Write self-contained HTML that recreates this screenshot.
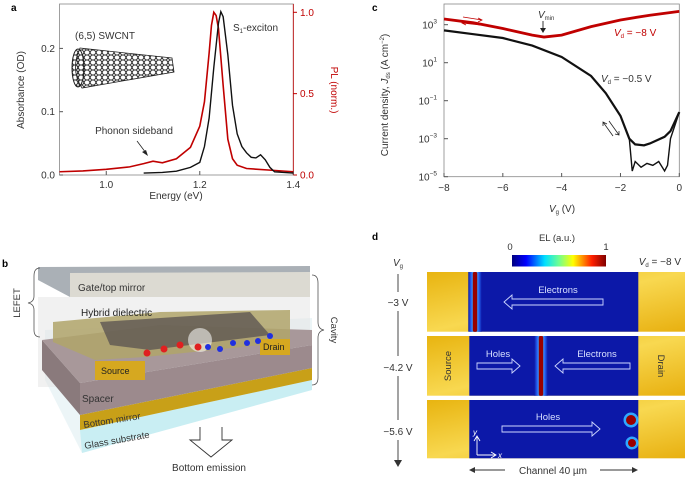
<!DOCTYPE html>
<html><head><meta charset="utf-8"><style>
body{margin:0;background:#fff;}
svg{display:block;font-family:"Liberation Sans",sans-serif;}
</style></head><body>
<svg id="fig" width="685" height="481" viewBox="0 0 685 481" xmlns="http://www.w3.org/2000/svg">
<defs>
<linearGradient id="gold" x1="0" y1="0" x2="1" y2="1">
<stop offset="0" stop-color="#e8b410"/><stop offset="0.5" stop-color="#f8d850"/><stop offset="1" stop-color="#e8b010"/></linearGradient>
<linearGradient id="cbar" x1="0" x2="1">
<stop offset="0" stop-color="#00007f"/><stop offset="0.15" stop-color="#0000ff"/><stop offset="0.35" stop-color="#00e0ff"/><stop offset="0.5" stop-color="#70ff90"/><stop offset="0.65" stop-color="#ffff00"/><stop offset="0.85" stop-color="#ff2000"/><stop offset="1" stop-color="#800000"/></linearGradient>
<pattern id="hex" width="6" height="5" patternUnits="userSpaceOnUse"><path d="M0 2.5 L1.5 0 H4.5 L6 2.5 L4.5 5 H1.5 Z" fill="none" stroke="#222" stroke-width="0.9"/></pattern>
<linearGradient id="emit" x1="0" x2="1"><stop offset="0" stop-color="#0c18a8"/><stop offset="0.25" stop-color="#2a70ff"/><stop offset="0.4" stop-color="#40d0ff"/><stop offset="0.5" stop-color="#a00000"/><stop offset="0.6" stop-color="#40d0ff"/><stop offset="0.75" stop-color="#2a70ff"/><stop offset="1" stop-color="#0c18a8"/></linearGradient>
</defs>

<!-- Panel a -->
<g>
<text x="11" y="11" font-size="10" font-weight="bold">a</text>
<rect x="59.5" y="4" width="233.8" height="171" fill="none" stroke="#888" stroke-width="0.8"/>
<line x1="293.3" y1="4" x2="293.3" y2="175" stroke="#c00000" stroke-width="0.8"/>
<g id="aAxes"></g>
<text transform="translate(24,90) rotate(-90)" font-size="10" text-anchor="middle" fill="#333">Absorbance (OD)</text>
<text transform="translate(331,90) rotate(90)" font-size="10" text-anchor="middle" fill="#c00000">PL (norm.)</text>
<text x="176" y="199" font-size="10" text-anchor="middle" fill="#333">Energy (eV)</text>
<text x="75" y="39" font-size="10" fill="#333">(6,5) SWCNT</text>
<g>
<path d="M80 48 L172 58 L174 72 L82 88 Q70 70 80 48 Z" fill="url(#hex)" stroke="#222" stroke-width="0.8"/>
<ellipse cx="78" cy="68" rx="6" ry="19" fill="url(#hex)" stroke="#222" stroke-width="1"/>
</g>
<text x="233" y="31" font-size="10" fill="#333">S<tspan font-size="6" dy="2">1</tspan><tspan dy="-2">-exciton</tspan></text>
<text x="134" y="134" font-size="10" text-anchor="middle" fill="#333">Phonon sideband</text>
<line x1="137" y1="141" x2="146" y2="153" stroke="#222" stroke-width="0.8"/>
<path d="M148 156 L142 152 L146 150 Z" fill="#222"/>
<g id="aSeries"></g>
</g>

<!-- Panel c -->
<g>
<text x="372" y="11" font-size="10" font-weight="bold">c</text>
<rect x="444" y="4" width="235.3" height="172.7" fill="none" stroke="#888" stroke-width="0.8"/>
<g id="cAxes"></g>
<text transform="translate(388,95) rotate(-90)" font-size="10" text-anchor="middle" fill="#333">Current density, <tspan font-style="italic">J</tspan><tspan font-size="6" dy="2">ds</tspan><tspan dy="-2"> (A cm</tspan><tspan font-size="6" dy="-4">−2</tspan><tspan dy="4">)</tspan></text>
<text x="562" y="212" font-size="10" text-anchor="middle" fill="#333"><tspan font-style="italic">V</tspan><tspan font-size="6" dy="2">g</tspan><tspan dy="-2"> (V)</tspan></text>
<text x="538" y="18" font-size="10" fill="#333"><tspan font-style="italic">V</tspan><tspan font-size="6" dy="2">min</tspan></text>
<line x1="543" y1="21" x2="543" y2="31" stroke="#222" stroke-width="0.9"/><path d="M540 28 L546 28 L543 33 Z" fill="#222"/>
<text x="614" y="36" font-size="10" fill="#c00000"><tspan font-style="italic">V</tspan><tspan font-size="6" dy="2">d</tspan><tspan dy="-2"> = −8 V</tspan></text>
<text x="601" y="82" font-size="10" fill="#333"><tspan font-style="italic">V</tspan><tspan font-size="6" dy="2">d</tspan><tspan dy="-2"> = −0.5 V</tspan></text>
<g id="cSeries"></g>
<g stroke="#c00000" stroke-width="0.8" fill="none">
<path d="M463 17 L482 20 M478 18 L482 20 L478 22"/><path d="M480 25 L462 23 M466 21 L462 23 L466 25"/></g>
<g stroke="#222" stroke-width="0.8" fill="none">
<path d="M609 121 L619 135 M615 134 L619 135 L619 131"/><path d="M613 136 L603 122 M603 126 L603 122 L607 124"/></g>
</g>

<!-- Panel b -->
<g>
<text x="2" y="267" font-size="10" font-weight="bold">b</text>
<polygon points="45,330 312,318 312,388 82,453 45,380" fill="#dfeff2" opacity="0.6"/>
<rect x="38" y="297" width="272" height="90" fill="#e4e4e4" opacity="0.5"/>
<polygon points="80,430 312,380 312,390 82,453" fill="#c9eef3"/>
<polygon points="80,415 312,368 312,380 80,430" fill="#c8a018"/>
<polygon points="42,340 80,383 80,415 42,370" fill="#8a7a7c"/>
<polygon points="80,383 312,345 312,368 80,415" fill="#9c8a8d"/>
<polygon points="42,340 160,325 312,330 312,345 80,383" fill="#a8989a"/>
<polygon points="53,322 160,312 290,310 290,342 145,357 95,360 53,342" fill="#b0a46a" opacity="0.85"/>
<polygon points="100,322 250,312 270,335 150,350 110,345" fill="#5e5652" opacity="0.8"/>
<rect x="95" y="361" width="50" height="19" fill="#d6a820"/>
<text x="101" y="374" font-size="9" fill="#222">Source</text>
<rect x="260" y="339" width="30" height="16" fill="#d6a820"/>
<text x="263" y="350" font-size="9" fill="#222">Drain</text>
<circle cx="200" cy="340" r="12" fill="#fff" opacity="0.55"/>
<g fill="#e02020"><circle cx="147" cy="353" r="3.5"/><circle cx="164" cy="349" r="3.5"/><circle cx="180" cy="345" r="3.5"/><circle cx="198" cy="347" r="3.5"/></g>
<g fill="#2030e0"><circle cx="208" cy="347" r="3"/><circle cx="220" cy="349" r="3"/><circle cx="233" cy="343" r="3"/><circle cx="247" cy="343" r="3"/><circle cx="258" cy="341" r="3"/><circle cx="270" cy="336" r="3"/></g>
<text x="81" y="316" font-size="10" fill="#222">Hybrid dielectric</text>
<polygon points="38,267 310,266 310,297 70,297 38,280" fill="#aab0b6"/>
<polygon points="70,273 310,272 310,297 70,297" fill="#dcdad2"/>
<text x="78" y="291" font-size="10" fill="#333">Gate/top mirror</text>
<text x="82" y="402" font-size="10" fill="#333">Spacer</text>
<text transform="translate(84,428) rotate(-9)" font-size="9.5" fill="#333">Bottom mirror</text>
<text transform="translate(85,449) rotate(-10)" font-size="9.5" fill="#333">Glass substrate</text>
<path d="M40 268 Q34 268 34 276 L34 296 Q34 302 28 303 Q34 304 34 310 L34 330 Q34 337 40 337" fill="none" stroke="#555" stroke-width="0.8"/>
<text transform="translate(20,303) rotate(-90)" font-size="9.5" text-anchor="middle" fill="#333">LEFET</text>
<path d="M312 275 Q318 275 318 283 L318 322 Q318 329 324 330 Q318 331 318 338 L318 378 Q318 385 312 385" fill="none" stroke="#555" stroke-width="0.8"/>
<text transform="translate(331,330) rotate(90)" font-size="9.5" text-anchor="middle" fill="#333">Cavity</text>
<path d="M200 427 L200 440 L190 440 L211 457 L232 440 L222 440 L222 427" fill="#fff" stroke="#333" stroke-width="0.9"/>
<text x="209" y="471" font-size="10" text-anchor="middle" fill="#333">Bottom emission</text>
</g>

<!-- Panel d -->
<g>
<text x="372" y="240" font-size="10" font-weight="bold">d</text>
<text x="557" y="241" font-size="9.5" text-anchor="middle" fill="#333">EL (a.u.)</text>
<text x="510" y="250" font-size="9.5" text-anchor="middle" fill="#333">0</text>
<text x="606" y="250" font-size="9.5" text-anchor="middle" fill="#333">1</text>
<rect x="512" y="255" width="94" height="11.5" fill="url(#cbar)"/>
<text x="681" y="265" font-size="10" text-anchor="end" fill="#333"><tspan font-style="italic">V</tspan><tspan font-size="6" dy="2">d</tspan><tspan dy="-2"> = −8 V</tspan></text>
<text x="393" y="266" font-size="10" font-style="italic" fill="#333">V<tspan font-size="6" dy="2" font-style="normal">g</tspan></text>
<g stroke="#666" stroke-width="1.2">
<line x1="398" y1="274" x2="398" y2="292"/><line x1="398" y1="311" x2="398" y2="356"/><line x1="398" y1="376" x2="398" y2="420"/><line x1="398" y1="440" x2="398" y2="462"/></g>
<path d="M394 460 L402 460 L398 467 Z" fill="#333"/>
<text x="398" y="306" font-size="10" text-anchor="middle" fill="#333">−3 V</text>
<text x="398" y="371" font-size="10" text-anchor="middle" fill="#333">−4.2 V</text>
<text x="398" y="435" font-size="10" text-anchor="middle" fill="#333">−5.6 V</text>
<g id="strips"></g>
<g stroke="#333" stroke-width="0.9"><line x1="470" y1="470" x2="505" y2="470"/><line x1="600" y1="470" x2="636" y2="470"/></g>
<path d="M469 470 L475 467 L475 473 Z M638 470 L632 467 L632 473 Z" fill="#333"/>
<text x="553" y="474" font-size="10" text-anchor="middle" fill="#333">Channel 40 µm</text>
</g>
</svg>
<script>
// Panel a data
const energyAbs = [1.08,1.12,1.15,1.18,1.20,1.21,1.22,1.23,1.24,1.245,1.25,1.26,1.27,1.28,1.29,1.30,1.31,1.32,1.33,1.34,1.35,1.36,1.40];
const absValues = [0.003,0.004,0.006,0.012,0.02,0.045,0.09,0.17,0.24,0.258,0.25,0.19,0.11,0.065,0.045,0.035,0.028,0.027,0.032,0.024,0.012,0.005,0.003];
const energyPL = [0.90,0.95,1.00,1.05,1.08,1.10,1.12,1.15,1.18,1.20,1.21,1.22,1.225,1.23,1.235,1.24,1.25,1.26,1.27,1.28,1.30,1.35,1.40];
const plValues = [0.02,0.025,0.035,0.05,0.07,0.085,0.075,0.1,0.17,0.3,0.45,0.75,0.92,1.0,0.98,0.9,0.55,0.22,0.1,0.06,0.04,0.03,0.02];
const aXTicks = [1.0,1.2,1.4];
const aXTickLabels = ["1.0","1.2","1.4"];
const aYTicks = [0,0.1,0.2];
const aYTickLabels = ["0.0","0.1","0.2"];
const plTicks = [0,0.5,1.0];
const plTickLabels = ["0.0","0.5","1.0"];
// Panel c data
const vgRed = [-8,-7,-6,-5,-4.6,-4,-3,-2,-1,0];
const logRed = [3.3,3.1,2.8,2.45,2.35,2.45,2.9,3.25,3.5,3.7];
const vgBlackUp = [-8,-7,-6,-5,-4,-3,-2.5,-2,-1.7,-1.5,-1.2,-1,-0.5,-0.3,0];
const logBlackUp = [2.7,2.5,2.3,1.9,1.3,0.3,-0.6,-1.8,-3.0,-3.3,-3.35,-3.25,-2.9,-2.6,-1.6];
const vgBlackLow = [-1.7,-1.6,-1.5,-1.3,-1.1,-0.9,-0.7,-0.5,-0.4,-0.3,0];
const logBlackLow = [-3.0,-4.7,-4.2,-4.5,-4.3,-4.4,-4.2,-4.7,-4.4,-3.0,-1.6];
const cXTicks = [-8,-6,-4,-2,0];
const cXTickLabels = ["−8","−6","−4","−2","0"];
const cYTicks = [3,1,-1,-3,-5];
const cYTickLabels = ["3","1","−1","−3","−5"];

const NS="http://www.w3.org/2000/svg";
function mk(tag,attrs,parent){const e=document.createElementNS(NS,tag);for(const k in attrs)e.setAttribute(k,attrs[k]);parent.appendChild(e);return e;}
const ax=e=>59.5+(e-0.9)/0.5*233.8;
const ayAbs=v=>175-v/0.1*63.3;
const ayPL=v=>175-v*162.7;
const cx=v=>444+(v+8)/8*235.3;
const cy=l=>176.7-(l+5)/2*38;

const aAxes=document.getElementById('aAxes');
aXTicks.forEach((t,i)=>{
 const l=mk('line',{x1:ax(t),y1:175,x2:ax(t),y2:171,stroke:'#555'},aAxes);
 
 
 const tx=mk('text',{x:ax(t),y:188,'font-size':10,'text-anchor':'middle',fill:'#333'},aAxes);tx.textContent=aXTickLabels[i];
 
 
});
aYTicks.forEach((t,i)=>{
 mk('line',{x1:59.5,y1:ayAbs(t),x2:63,y2:ayAbs(t),stroke:'#555'},aAxes);
 const tx=mk('text',{x:55,y:ayAbs(t)+3.5,'font-size':10,'text-anchor':'end',fill:'#333'},aAxes);tx.textContent=aYTickLabels[i];
 
 
});
plTicks.forEach((t,i)=>{
 mk('line',{x1:293.3,y1:ayPL(t),x2:297,y2:ayPL(t),stroke:'#c00000'},aAxes);
 const tx=mk('text',{x:300,y:ayPL(t)+3.5,'font-size':10,fill:'#c00000'},aAxes);tx.textContent=plTickLabels[i];
 
 
});
const aS=document.getElementById('aSeries');
const pl=mk('polyline',{points:energyPL.map((e,i)=>ax(e)+','+ayPL(plValues[i])).join(' '),fill:'none',stroke:'#c00000','stroke-width':1.6},aS);


const ab=mk('polyline',{points:energyAbs.map((e,i)=>ax(e)+','+ayAbs(absValues[i])).join(' '),fill:'none',stroke:'#111','stroke-width':1.4},aS);



const cAxes=document.getElementById('cAxes');
cXTicks.forEach((t,i)=>{
 mk('line',{x1:cx(t),y1:176.7,x2:cx(t),y2:173,stroke:'#555'},cAxes);
 const tx=mk('text',{x:cx(t),y:191,'font-size':10,'text-anchor':'middle',fill:'#333'},cAxes);tx.textContent=cXTickLabels[i];
 
 
});
cYTicks.forEach((t,i)=>{
 mk('line',{x1:444,y1:cy(t),x2:448,y2:cy(t),stroke:'#555'},cAxes);
 const tx=mk('text',{x:437,y:cy(t)+4,'font-size':10,'text-anchor':'end',fill:'#333'},cAxes);
 tx.innerHTML='10<tspan font-size="6.5" dy="-5">'+cYTickLabels[i]+'</tspan>';
 
 
});
const cS=document.getElementById('cSeries');
const r=mk('polyline',{points:vgRed.map((v,i)=>cx(v)+','+cy(logRed[i])).join(' '),fill:'none',stroke:'#c00000','stroke-width':2.8},cS);


const b1=mk('polyline',{points:vgBlackUp.map((v,i)=>cx(v)+','+cy(logBlackUp[i])).join(' '),fill:'none',stroke:'#111','stroke-width':2.2},cS);


const b2=mk('polyline',{points:vgBlackLow.map((v,i)=>cx(v)+','+cy(logBlackLow[i])).join(' '),fill:'none',stroke:'#111','stroke-width':1.4},cS);



// Panel d strips
const strips=document.getElementById('strips');
const rows=[[272,331.7],[336,395.7],[400,458.3]];
rows.forEach((rw,i)=>{
 const h=rw[1]-rw[0];
 const g=mk('g',{},strips);
 
 
 mk('rect',{x:427,y:rw[0],width:258,height:h,fill:'url(#gold)'},g);
 mk('rect',{x:469.3,y:rw[0],width:169,height:h,fill:'#0c18a8'},g);
});
function zone(x,y,w,h,parent){mk('rect',{x:x-w*1.5,y:y,width:w*3,height:h,fill:'url(#emit)'},parent);mk('rect',{x:x-w/2,y:y,width:w,height:h,rx:1.5,fill:'#9a0000'},parent);}
zone(475,272,4.5,59.7,strips);
zone(541,336,4.5,59.7,strips);
mk('circle',{cx:631,cy:420,r:7.5,fill:'#30a8ff'},strips);mk('circle',{cx:631,cy:420,r:5,fill:'#9a0000'},strips);
mk('circle',{cx:632,cy:443,r:6.5,fill:'#30a8ff'},strips);mk('circle',{cx:632,cy:443,r:4,fill:'#9a0000'},strips);
function arrowR(x1,x2,y,parent){mk('path',{d:`M${x1} ${y-3} L${x2-8} ${y-3} L${x2-8} ${y-7} L${x2} ${y} L${x2-8} ${y+7} L${x2-8} ${y+3} L${x1} ${y+3} Z`,fill:'none',stroke:'#cfd8ff','stroke-width':0.9},parent);}
function arrowL(x1,x2,y,parent){mk('path',{d:`M${x2} ${y-3} L${x1+8} ${y-3} L${x1+8} ${y-7} L${x1} ${y} L${x1+8} ${y+7} L${x1+8} ${y+3} L${x2} ${y+3} Z`,fill:'none',stroke:'#cfd8ff','stroke-width':0.9},parent);}
arrowL(504,603,302,strips);arrowL(555,630,366,strips);arrowR(477,520,366,strips);arrowR(502,600,429,strips);
function lbl(t,x,y,name,rot){const e=mk('text',{x:x,y:y,'font-size':9.5,'text-anchor':'middle',fill:rot?'#333':'#d8e0ff'},strips);if(rot)e.setAttribute('transform',`rotate(${rot} ${x} ${y})`);e.textContent=t;}
lbl('Electrons',558,293,'electrons-label-1');
lbl('Holes',498,357,'holes-label-2');
lbl('Electrons',597,357,'electrons-label-2');
lbl('Holes',548,420,'holes-label-3');
lbl('Source',451,366,'source-strip-label',-90);
lbl('Drain',658,366,'drain-strip-label',90);
mk('path',{d:'M477 455 L477 437 M474 441 L477 436 L480 441 M477 455 L495 455 M491 452 L496 455 L491 458',fill:'none',stroke:'#fff','stroke-width':0.9},strips);
const yl=mk('text',{x:473,y:435,'font-size':8,'font-style':'italic',fill:'#fff'},strips);yl.textContent='y';
const xl=mk('text',{x:498,y:458,'font-size':8,'font-style':'italic',fill:'#fff'},strips);xl.textContent='x';
</script>
</body></html>
